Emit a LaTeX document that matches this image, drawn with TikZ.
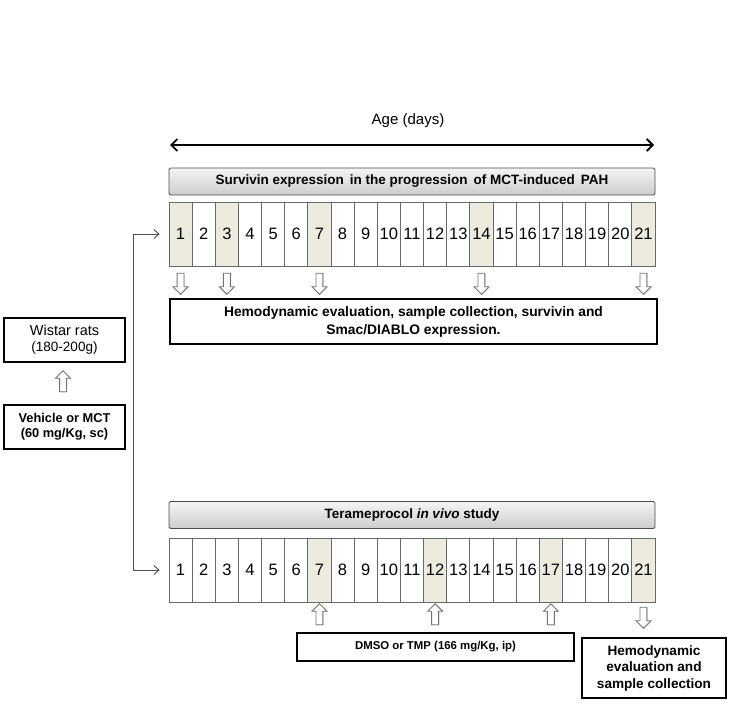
\documentclass[tikz,border=0pt]{standalone}
\usepackage{fontspec}
\setmainfont{Liberation Sans}
\usetikzlibrary{arrows.meta,shapes.arrows,shadows}
\definecolor{hl}{RGB}{237,235,222}
\definecolor{cellline}{RGB}{105,105,105}
\begin{document}
\begin{tikzpicture}[x=1pt,y=-1pt,
  cell/.style={draw=cellline,line width=0.8pt,minimum width=23.143pt,minimum height=64pt,inner sep=0pt,font=\fontsize{16.5}{18}\selectfont},
  header/.style={draw=black!70,line width=0.8pt,rounded corners=1.5pt,top color=gray!8,bottom color=gray!40,minimum width=486pt,minimum height=27pt,inner sep=0pt,font=\bfseries\fontsize{13.5}{15}\selectfont},
  thickbox/.style={draw=black,line width=2.2pt,fill=white,inner sep=0pt,align=center,font=\bfseries},
  blockarrow/.style={single arrow,draw=black!55,fill=white,line width=0.9pt,inner xsep=0pt,inner ysep=3pt,single arrow head extend=4pt,minimum height=21pt,drop shadow={shadow xshift=0.8pt,shadow yshift=-0.8pt,opacity=0.25}},
  conn/.style={draw=black!70,line width=0.9pt},
  tip/.style={-{Straight Barb[length=5pt,width=9pt]}}
]
\useasboundingbox (0,0) rectangle (729,704);

% Age axis
\node[font=\fontsize{15}{17}\selectfont] (age) at (408,121) {Age (days)};
\coordinate (ageL) at (170,145);
\coordinate (ageR) at (654,145);
\draw[line width=1.8pt,{Straight Barb[length=6pt,width=12pt]}-{Straight Barb[length=6pt,width=12pt]}] (ageL) -- (ageR);

% top header
\node[header] (th) at (412,181.5) {Survivin expression\, in the progression\, of MCT-induced\, PAH};

% top cells
\foreach \i in {1,...,21}{
  \def\f{white}
  \ifnum\i=1 \def\f{hl}\fi
  \ifnum\i=3 \def\f{hl}\fi
  \ifnum\i=7 \def\f{hl}\fi
  \ifnum\i=14 \def\f{hl}\fi
  \ifnum\i=21 \def\f{hl}\fi
  \node[cell,fill=\f] (t\i) at ({169+(\i-0.5)*23.143},234) {\i};
}

% top arrows down
\foreach \i in {1,3,7,14,21}{
  \node[blockarrow,rotate=-90] (ta\i) at ([yshift=-48pt]t\i.center) {};
}

% top result box
\node[thickbox,minimum width=487pt,minimum height=45pt,font=\bfseries\fontsize{13.8}{18}\selectfont] (tres) at (413.5,321.5) {Hemodynamic evaluation, sample collection, survivin and\\Smac/DIABLO expression.};

% left boxes
\node[draw=black,line width=1.2pt,minimum width=121pt,minimum height=44pt,inner sep=0pt,align=center,font=\fontsize{13.5}{16}\selectfont] (wistar) at (64.5,340) {{\fontsize{14.5}{16}\selectfont Wistar rats}\\(180-200g)};
\node[blockarrow,rotate=90] (wa) at (63,383) {};
\node[thickbox,minimum width=121pt,minimum height=44pt,font=\bfseries\fontsize{12.8}{15}\selectfont] (veh) at (64.5,427) {Vehicle or MCT\\(60 mg/Kg, sc)};

% bottom header
\node[header] (bh) at (412,515) {Terameprocol \textit{in vivo} study};

% bottom cells
\foreach \i in {1,...,21}{
  \def\f{white}
  \ifnum\i=7 \def\f{hl}\fi
  \ifnum\i=12 \def\f{hl}\fi
  \ifnum\i=17 \def\f{hl}\fi
  \ifnum\i=21 \def\f{hl}\fi
  \node[cell,fill=\f] (b\i) at ({169+(\i-0.5)*23.143},570) {\i};
}

% bottom arrows
\foreach \i in {7,12,17}{
  \node[blockarrow,rotate=90] (ba\i) at ([yshift=-46pt]b\i.center) {};
}
\node[blockarrow,rotate=-90] (ba21) at ([yshift=-46pt]b21.center) {};

% bottom boxes
\node[thickbox,minimum width=277pt,minimum height=28pt,font=\bfseries\fontsize{11.4}{13}\selectfont] (dmso) at (435.5,647) {DMSO or TMP (166 mg/Kg, ip)};
\node[thickbox,minimum width=144pt,minimum height=60pt,font=\bfseries\fontsize{13.6}{16.5}\selectfont] (bres) at (654,668) {Hemodynamic\\evaluation and\\sample collection};

% bracket connector
\coordinate (bx) at (133,0);
\coordinate (bt) at (t1.west -| bx);
\coordinate (bb) at (b1.west -| bx);
\draw[conn] (bt) -- (bb);
\draw[conn,tip,shorten >=9pt] (bt) -- (t1.west);
\draw[conn,tip,shorten >=9pt] (bb) -- (b1.west);
\end{tikzpicture}
\end{document}
